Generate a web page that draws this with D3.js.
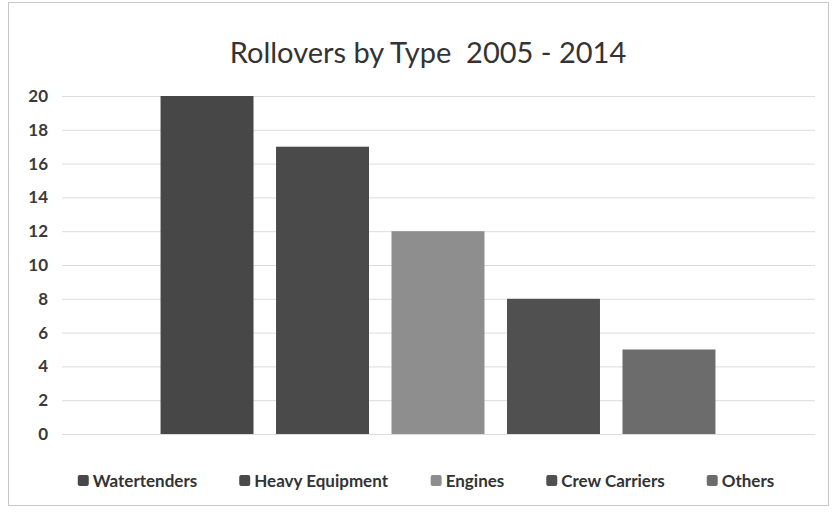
<!DOCTYPE html>
<html>
<head>
<meta charset="utf-8">
<script src="https://cdnjs.cloudflare.com/ajax/libs/d3/7.8.5/d3.min.js"></script>
<style>
  body { margin: 0; background: #fff; }
  text { font-family: Lato, "Open Sans", sans-serif; }
</style>
</head>
<body>
<div id="chart"></div>
<script>
// data
var types = ["Watertenders", "Heavy Equipment", "Engines", "Crew Carriers", "Others"];
var rollovers = [20, 17, 12, 8, 5];
var colors = ["#474747", "#4a4a4a", "#8e8e8e", "#505050", "#6c6c6c"];
var yTicks = [0, 2, 4, 6, 8, 10, 12, 14, 16, 18, 20];

var width = 833, height = 512;
var svg = d3.select("#chart").append("svg").attr("width", width).attr("height", height);

// chart border
svg.append("rect").attr("x", 8.5).attr("y", 2.5).attr("width", 820).attr("height", 503)
  .attr("fill", "none").attr("stroke", "#c8c8c8").attr("stroke-width", 1);

var x = d3.scaleBand().domain(types).range([149, 727]).paddingInner(0.195).paddingOuter(0.1);
var y = d3.scaleLinear().domain([0, 20]).range([434, 96]);

// gridlines
svg.append("g").selectAll("line").data(yTicks).enter().append("line")
  .attr("x1", 62).attr("x2", 815)
  .attr("y1", function(d) { return y(d) + 0.5; })
  .attr("y2", function(d) { return y(d) + 0.5; })
  .attr("stroke", "#dcdcdc").attr("stroke-width", 1);

// y axis labels
var yAxis = svg.append("g").attr("transform", "translate(50,0)")
  .call(d3.axisLeft(y).tickValues(yTicks).tickSize(0).tickPadding(2));
yAxis.select(".domain").remove();
yAxis.selectAll("text").attr("font-size", 17).attr("font-weight", "bold")
  .attr("fill", "#3a3a3a").style("font-family", "Lato, sans-serif");

// bars
svg.append("g").selectAll("rect").data(rollovers).enter().append("rect")
  .attr("x", function(d, i) { return x(types[i]); })
  .attr("y", function(d) { return y(d); })
  .attr("width", x.bandwidth())
  .attr("height", function(d) { return y(0) - y(d); })
  .attr("fill", function(d, i) { return colors[i]; });

// title
svg.append("text").attr("x", 428).attr("y", 63).attr("text-anchor", "middle")
  .attr("font-size", 29).attr("fill", "#333").attr("xml:space", "preserve")
  .text("Rollovers by Type  2005 - 2014");

// legend
var legend = svg.append("g");
var items = legend.selectAll("g").data(types).enter().append("g");
items.append("rect").attr("width", 11).attr("height", 11).attr("y", -12)
  .attr("rx", 2).attr("fill", function(d, i) { return colors[i]; });
items.append("text").attr("x", 15).attr("y", 0).attr("font-size", 17).attr("font-weight", "bold")
  .attr("fill", "#333").text(function(d) { return d; });
var pos = 0, gap = 42;
items.each(function() {
  var w = this.getBBox().width;
  d3.select(this).attr("transform", "translate(" + pos + ",0)");
  pos += w + gap;
});
var total = pos - gap;
legend.attr("transform", "translate(" + (426 - total / 2) + ",487)");
</script>
</body>
</html>
